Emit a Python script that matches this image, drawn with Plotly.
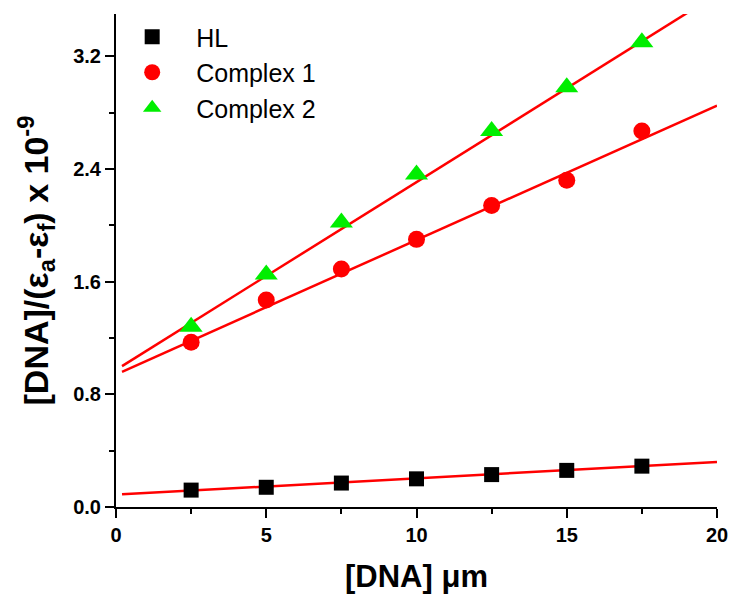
import plotly.graph_objects as go

x_vals = [2.5, 5, 7.5, 10, 12.5, 15, 17.5]
hl_vals = [0.12, 0.14, 0.17, 0.20, 0.23, 0.26, 0.29]
c1_vals = [1.17, 1.47, 1.69, 1.90, 2.14, 2.32, 2.67]
c2_vals = [1.28, 1.65, 2.02, 2.36, 2.67, 2.98, 3.30]

fit_x = [0.2, 20]
hl_fit = [0.09, 0.32]
c1_fit = [0.96, 2.85]
c2_fit = [1.00, 3.64]

font_family = "Liberation Sans, Arial, sans-serif"

fig = go.Figure()
for fy in [hl_fit, c1_fit, c2_fit]:
    fig.add_trace(go.Scatter(x=fit_x, y=fy, mode="lines",
                             line=dict(color="#ff0000", width=2.5),
                             showlegend=False, hoverinfo="skip"))

fig.add_trace(go.Scatter(x=x_vals, y=hl_vals, mode="markers", name="HL",
                         marker=dict(symbol="square", size=15, color="#000000")))
fig.add_trace(go.Scatter(x=x_vals, y=c1_vals, mode="markers", name="Complex 1",
                         marker=dict(symbol="circle", size=17, color="#ff0000")))
fig.add_trace(go.Scatter(x=x_vals, y=c2_vals, mode="markers", name="Complex 2",
                         marker=dict(symbol="triangle-up", size=20, color="#00ee00")))

axis_common = dict(showline=True, linecolor="black", linewidth=2, ticks="outside",
                   ticklen=9, tickwidth=2, tickcolor="black", showgrid=False,
                   zeroline=False, mirror=False, automargin=False,
                   tickfont=dict(family=font_family, size=20, color="black", weight="bold"))

fig.update_layout(
    width=733, height=603,
    margin=dict(l=116, r=16, t=14, b=96),
    plot_bgcolor="white", paper_bgcolor="white",
    font=dict(family=font_family, color="black"),
    xaxis=dict(range=[0, 20], tickvals=[0, 5, 10, 15, 20],
               minor=dict(ticks="outside", ticklen=5, tickwidth=2, tickcolor="black", dtick=2.5),
               title=dict(text="[DNA] μm", font=dict(size=31, weight="bold"), standoff=20),
               **axis_common),
    yaxis=dict(range=[0, 3.5], tickvals=[0, 0.8, 1.6, 2.4, 3.2], ticktext=["0.0", "0.8", "1.6", "2.4", "3.2"],
               minor=dict(ticks="outside", ticklen=5, tickwidth=2, tickcolor="black", dtick=0.4),
               title=dict(text="[DNA]/(ε<sub>a</sub>-ε<sub>f</sub>) x 10<sup>-9</sup>",
                          font=dict(size=34, weight="bold"), standoff=14),
               **axis_common),
    legend=dict(x=-0.013, y=1.0, xanchor="left", yanchor="top",
                bgcolor="rgba(0,0,0,0)", font=dict(size=25, family=font_family),
                itemsizing="trace", itemwidth=78, tracegroupgap=0),
)

fig.write_html("out.html", config={"displayModeBar": False},
               post_script="document.body.style.margin='0';document.body.style.overflow='hidden';")
